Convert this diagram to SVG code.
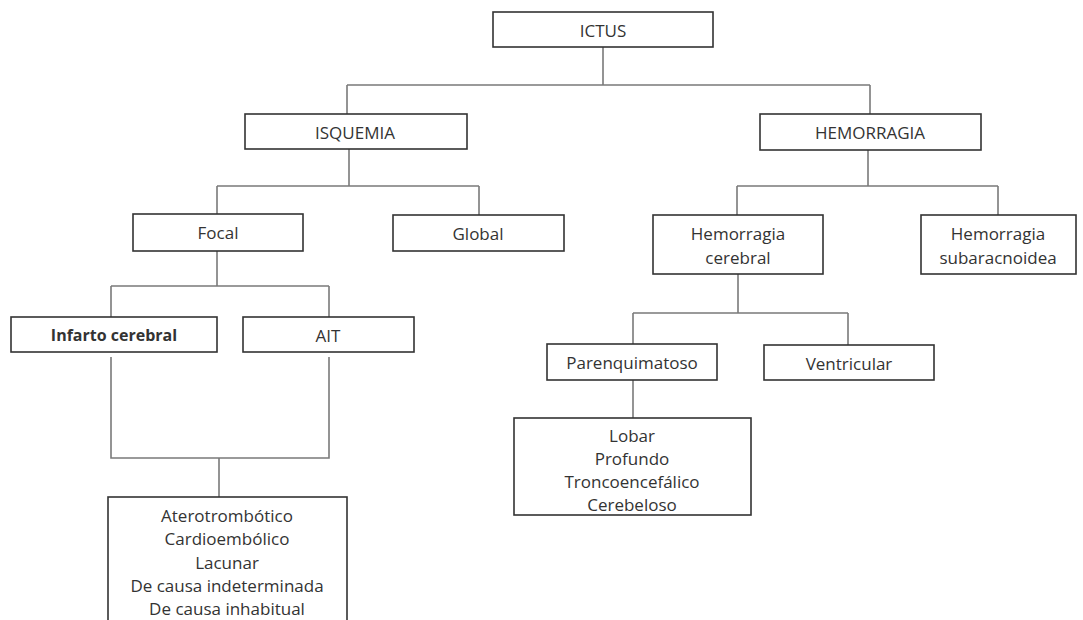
<svg xmlns="http://www.w3.org/2000/svg" width="1083" height="620" viewBox="0 0 1083 620">
<style>
.box{fill:#fff;stroke:#333;stroke-width:1.6}
.t{font-family:"Open Sans","DejaVu Sans",sans-serif;font-size:17px;fill:#333;text-anchor:middle;dominant-baseline:central}
.b{font-weight:bold;font-size:16px}
.c{fill:none;stroke:#7a7a7a;stroke-width:1.6}
</style>
<rect width="1083" height="620" fill="#fff"/>
<g id="connectors" class="c">
<path d="M603 47V85M347 85H870M347 85V114M870 85V114"/>
<path d="M349 149V186M217 186H479M217 186V214M479 186V215"/>
<path d="M217 251V286M111 286H329M111 286V317M329 286V317"/>
<path d="M111 357V458H329V357M219 458V497"/>
<path d="M868 150V186M737 186H998M737 186V215M998 186V215"/>
<path d="M738 274V313M633 313H848M633 313V344M848 313V345"/>
<path d="M633 380V418"/>
</g>
<g id="ictus"><rect class="box" x="493" y="12" width="220" height="35"/><text class="t" x="603" y="30">ICTUS</text></g>
<g id="isquemia"><rect class="box" x="245" y="114" width="222" height="35"/><text class="t" x="355" y="132">ISQUEMIA</text></g>
<g id="hemorragia"><rect class="box" x="760" y="114" width="221" height="36"/><text class="t" x="870" y="132">HEMORRAGIA</text></g>
<g id="focal"><rect class="box" x="133" y="214" width="170" height="37"/><text class="t" x="218" y="232">Focal</text></g>
<g id="global"><rect class="box" x="393" y="215" width="171" height="36"/><text class="t" x="478" y="233">Global</text></g>
<g id="hem-cerebral"><rect class="box" x="653" y="215" width="170" height="59"/><text class="t" x="738" y="233">Hemorragia</text><text class="t" x="738" y="257">cerebral</text></g>
<g id="hem-subaracnoidea"><rect class="box" x="921" y="215" width="155" height="59"/><text class="t" x="998" y="233">Hemorragia</text><text class="t" x="998" y="257">subaracnoidea</text></g>
<g id="infarto"><rect class="box" x="11" y="317" width="206" height="35"/><text class="t b" x="114" y="335">Infarto cerebral</text></g>
<g id="ait"><rect class="box" x="243" y="317" width="171" height="35"/><text class="t" x="328" y="335">AIT</text></g>
<g id="parenquimatoso"><rect class="box" x="547" y="344" width="170" height="36"/><text class="t" x="632" y="362">Parenquimatoso</text></g>
<g id="ventricular"><rect class="box" x="764" y="345" width="170" height="35"/><text class="t" x="849" y="363">Ventricular</text></g>
<g id="lobar"><rect class="box" x="514" y="418" width="237" height="97"/>
<text class="t" x="632" y="435">Lobar</text><text class="t" x="632" y="458">Profundo</text><text class="t" x="632" y="481">Troncoencefálico</text><text class="t" x="632" y="504">Cerebeloso</text></g>
<g id="causas"><rect class="box" x="108" y="497" width="239" height="140"/>
<text class="t" x="227" y="515">Aterotrombótico</text><text class="t" x="227" y="538">Cardioembólico</text><text class="t" x="227" y="562">Lacunar</text><text class="t" x="227" y="585">De causa indeterminada</text><text class="t" x="227" y="608">De causa inhabitual</text></g>
</svg>
